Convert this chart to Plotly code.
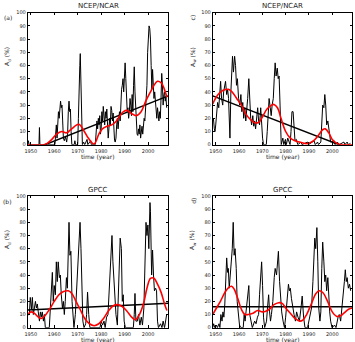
import plotly.graph_objects as go

W, H = 355, 342
X_RANGE = [1948.7, 2008.6]
Y_RANGE = [0, 100]
x_ticks = [1950, 1960, 1970, 1980, 1990, 2000]
y_ticks = list(range(0, 101, 10))

titles = ["NCEP/NCAR", "NCEP/NCAR", "GPCC", "GPCC"]
panel_labels = ["(a)", "c)", "(b)", "d)"]
y_labels = ["A<sub>d</sub> (%)", "A<sub>w</sub> (%)", "A<sub>d</sub> (%)", "A<sub>w</sub> (%)"]
x_label = "time (year)"

# ---- panel (a): NCEP/NCAR, dry ----
a_black = [(1948.7,0),(1949.0,3),(1949.3,0),(1953.5,0),(1953.7,13),(1953.9,0),(1957.0,0),(1957.3,1),(1957.6,0),
 (1960.3,0),(1960.6,8),(1960.9,15),(1961.2,5),(1961.5,18),(1961.8,25),(1962.1,20),(1962.4,27),(1962.7,33),(1963.0,28),
 (1963.3,30),(1963.6,18),(1963.9,5),(1964.3,3),(1964.8,6),(1965.3,2),(1965.7,8),(1966.0,25),(1966.3,33),(1966.6,25),
 (1966.9,27),(1967.2,10),(1967.5,0),(1968.5,0),(1968.8,3),(1969.1,0),(1970.0,0),(1970.3,20),(1970.6,55),(1970.9,60),
 (1971.1,69),(1971.4,50),(1971.7,20),(1972.0,0),(1972.5,2),(1973.0,0),(1974.0,4),(1974.3,0),(1975.5,3),(1975.8,0),
 (1977.5,0),(1977.8,8),(1978.2,18),(1978.5,12),(1978.8,20),(1979.1,15),(1979.4,22),(1979.7,8),(1980.0,12),(1980.3,25),
 (1980.6,18),(1980.9,29),(1981.2,22),(1981.5,15),(1981.8,25),(1982.1,20),(1982.4,27),(1982.7,10),(1983.0,5),(1983.3,12),
 (1983.6,20),(1983.9,15),(1984.2,29),(1984.5,26),(1984.8,18),(1985.1,24),(1985.4,10),(1985.7,3),(1986.0,2),(1986.3,5),
 (1986.6,15),(1986.9,20),(1987.2,12),(1987.5,22),(1987.8,25),(1988.1,18),(1988.4,35),(1988.7,42),(1989.0,45),(1989.3,50),
 (1989.6,40),(1989.9,55),(1990.2,62),(1990.5,50),(1990.8,30),(1991.1,25),(1991.4,28),(1991.7,20),(1992.0,25),(1992.3,35),
 (1992.6,30),(1992.9,22),(1993.2,38),(1993.5,25),(1993.8,45),(1994.1,59),(1994.4,40),(1994.7,28),(1995.0,20),(1995.3,8),
 (1995.6,7),(1995.9,12),(1996.2,8),(1996.5,15),(1996.8,5),(1997.1,10),(1997.4,14),(1997.7,8),(1998.0,15),(1998.3,20),
 (1998.6,18),(1998.9,28),(1999.2,32),(1999.5,45),(1999.8,70),(2000.1,85),(2000.4,90),(2000.7,88),(2001.0,80),(2001.3,60),
 (2001.6,42),(2001.9,57),(2002.2,45),(2002.5,35),(2002.8,40),(2003.1,30),(2003.4,25),(2003.7,20),(2004.0,28),(2004.3,22),
 (2004.6,18),(2004.9,25),(2005.2,20),(2005.5,35),(2005.8,54),(2006.1,45),(2006.4,30),(2006.7,38),(2007.0,40),(2007.3,33),
 (2007.6,36),(2007.9,28)]
a_red = [(1948.7,0),(1955.5,0),(1957,1),(1959,4),(1961,8),(1963.2,10),(1965.3,9),(1967.4,12),(1970.5,15.5),(1972.5,11),
 (1974.5,5),(1977,0.5),(1979,8),(1980.5,12),(1982.5,14),(1984.5,15),(1986.5,18),(1988,22),(1989.5,25),(1991,26),
 (1993,23.5),(1995,22),(1997,25),(1999,33),(2001,40),(2002.5,45),(2004,48),(2005.5,47),(2006.5,44),(2008,36)]
a_trend = [(1948.7,-5.2),(2008.6,37)]

# ---- panel (c): NCEP/NCAR, wet ----
c_black = [(1948.7,18),(1949.0,20),(1949.4,12),(1949.7,10),(1950.0,15),(1950.4,28),(1950.8,32),(1951.3,28),(1951.7,42),
 (1952.1,48),(1952.5,35),(1953.0,30),(1953.4,40),(1953.8,45),(1954.2,48),(1954.7,38),(1955.1,42),(1955.5,35),(1955.8,20),
 (1956.1,5),(1956.5,40),(1956.8,60),(1957.2,67),(1957.6,55),(1958.1,67),(1958.5,60),(1958.9,45),(1959.3,50),(1959.8,35),
 (1960.3,30),(1960.8,38),(1961.2,25),(1961.6,32),(1962.0,20),(1962.5,28),(1962.9,18),(1963.3,25),(1963.7,35),(1964.2,50),
 (1964.6,30),(1965.0,20),(1965.4,15),(1965.9,22),(1966.3,14),(1966.7,18),(1967.1,12),(1967.6,22),(1968.0,28),(1968.4,18),
 (1968.8,15),(1969.3,28),(1969.7,12),(1970.1,5),(1970.5,0),(1971.7,0),(1972.1,10),(1972.5,25),(1972.9,35),(1973.4,28),
 (1973.8,22),(1974.2,30),(1974.7,35),(1975.1,50),(1975.5,62),(1975.9,52),(1976.4,58),(1976.8,50),(1977.2,52),(1977.6,30),
 (1978.1,0),(1978.8,5),(1979.2,0),(1979.9,4),(1980.3,0),(1980.9,5),(1981.3,2),(1981.9,0),(1982.3,10),(1982.7,25),
 (1983.2,25),(1983.6,10),(1984.0,3),(1984.6,4),(1985.2,0),(1986.6,2),(1987.0,0),(1989.4,2),(1989.8,0),(1992.2,3),
 (1992.7,0),(1993.7,2),(1994.1,0),(1995.1,2),(1995.5,25),(1995.9,30),(1996.4,28),(1996.8,38),(1997.2,30),(1997.6,15),
 (1998.1,18),(1998.5,12),(1998.9,5),(1999.3,2),(2000.8,3),(2001.2,0),(2002.2,2),(2002.9,0),(2005.0,2),(2005.4,0),
 (2006.4,2),(2006.9,0),(2007.8,1)]
c_red = [(1948.7,31),(1951,38),(1953,41),(1955.4,42),(1957,40),(1959,35),(1961,30),(1963,23),(1965,19),(1967,16.5),
 (1968.5,17),(1970,21),(1972,27),(1974,30),(1975,30.5),(1976.5,28),(1978,20),(1980,10),(1982,5),(1984,3),(1986,2),
 (1988,1),(1990,1),(1992,3),(1994,7),(1996,11.5),(1997,12),(1998.5,9),(2000,4),(2002,1),(2004,0),(2008.6,0)]
c_trend = [(1948.7,37),(2008.6,-3.9)]

# ---- panel (b): GPCC, dry ----
b_black = [(1949.4,10),(1949.8,23),(1950.3,14),(1950.7,23),(1951.1,10),(1951.5,15),(1952.0,20),(1952.4,15),(1952.8,18),
 (1953.2,12),(1953.7,5),(1954.1,12),(1954.5,8),(1954.9,12),(1955.4,5),(1955.8,10),(1956.2,0),(1957.9,0),(1958.3,15),
 (1958.9,35),(1959.2,42),(1959.6,20),(1960.0,32),(1960.5,25),(1960.9,50),(1961.3,35),(1961.7,50),(1962.2,38),(1962.6,40),
 (1963.0,25),(1963.5,15),(1963.9,20),(1964.3,10),(1964.7,20),(1965.2,38),(1965.6,30),(1966.0,55),(1966.3,80),(1966.7,55),
 (1967.1,58),(1967.6,20),(1968.0,5),(1968.4,0),(1969.0,10),(1969.6,30),(1970.1,55),(1970.7,75),(1971.0,80),(1971.4,60),
 (1971.8,20),(1972.2,5),(1972.7,0),(1973.4,3),(1973.8,10),(1974.2,27),(1974.7,10),(1975.2,0),(1979.5,0),(1980.0,5),
 (1980.6,2),(1981.2,5),(1981.7,0),(1982.3,8),(1982.9,10),(1983.5,30),(1984.0,55),(1984.6,70),(1985.0,50),(1985.4,35),
 (1985.9,25),(1986.3,10),(1986.9,2),(1987.3,20),(1987.7,45),(1988.1,68),(1988.6,60),(1989.0,20),(1989.4,25),(1989.8,5),
 (1990.3,0),(1993.7,0),(1994.1,10),(1994.4,26),(1994.8,5),(1995.4,5),(1995.9,10),(1996.5,2),(1997.1,8),(1997.6,2),
 (1998.2,15),(1998.6,45),(1999.1,80),(1999.5,70),(1999.9,78),(2000.3,60),(2000.8,95),(2001.0,88),(2001.5,40),(2001.9,59),
 (2002.3,40),(2002.7,28),(2003.2,30),(2003.6,28),(2004.0,5),(2004.4,0),(2005.3,3),(2005.9,0),(2006.4,5),(2007.0,0),
 (2007.9,10)]
b_red = [(1948.7,9.5),(1950,12),(1951.5,11),(1953,8.5),(1954.5,7),(1956,9),(1958,14),(1960,20),(1962,25),(1964,27.5),
 (1966,28),(1967.5,26),(1969,21),(1971,14),(1973,7),(1975,3),(1977,1.5),(1979,3),(1981,7),(1983,12.5),(1985,16.5),
 (1987,17.5),(1989,16),(1991,12.5),(1993,8),(1994.5,6),(1996,9),(1998,18),(1999.5,30),(2001,37.5),(2002.5,37.5),
 (2004,33),(2005.5,27),(2007,18),(2008,13)]
b_trend = [(1948.7,13.5),(2008.6,18.5)]

# ---- panel (d): GPCC, wet ----
d_black = [(1948.7,0),(1949.1,3),(1949.6,0),(1950.3,2),(1950.7,0),(1951.4,3),(1951.8,0),(1952.2,10),(1952.7,5),(1953.1,12),
 (1953.5,8),(1953.9,18),(1954.4,40),(1954.7,53),(1955.1,42),(1955.4,45),(1955.8,30),(1956.2,40),(1956.6,48),(1957.1,60),
 (1957.5,80),(1957.9,55),(1958.3,60),(1958.8,45),(1959.2,20),(1959.6,10),(1960.2,2),(1960.8,0),(1961.8,0),(1962.2,10),
 (1962.6,5),(1963.0,12),(1963.6,20),(1964.2,32),(1964.6,10),(1965.2,5),(1965.7,0),(1966.7,5),(1967.3,3),(1967.9,8),
 (1968.4,10),(1968.8,25),(1969.3,38),(1969.7,50),(1970.1,32),(1970.5,8),(1971.0,0),(1971.8,5),(1972.2,15),(1972.7,25),
 (1973.1,12),(1973.5,5),(1973.9,10),(1974.5,20),(1975.1,38),(1975.5,45),(1976.1,40),(1976.5,50),(1976.9,58),(1977.4,35),
 (1977.8,20),(1978.3,12),(1978.9,5),(1979.5,0),(1980.0,8),(1980.6,20),(1981.2,33),(1981.6,28),(1982.0,30),(1982.5,22),
 (1983.0,15),(1983.6,10),(1984.2,5),(1984.7,12),(1985.3,8),(1985.9,5),(1986.6,15),(1987.1,24),(1987.7,8),(1988.3,0),
 (1989.4,0),(1990.0,5),(1990.5,10),(1991.1,15),(1991.7,35),(1992.1,50),(1992.5,68),(1992.9,60),(1993.4,76),(1993.8,50),
 (1994.2,15),(1994.7,5),(1995.1,12),(1995.5,45),(1995.9,65),(1996.4,50),(1996.8,35),(1997.2,40),(1997.6,28),(1998.1,38),
 (1998.5,20),(1998.9,12),(1999.3,5),(1999.9,0),(2001.0,2),(2001.6,0),(2002.5,8),(2003.0,10),(2003.6,5),(2004.2,15),
 (2004.7,25),(2005.2,35),(2005.6,44),(2006.0,35),(2006.4,38),(2006.9,30),(2007.4,33),(2007.9,28)]
d_red = [(1948.7,10),(1950,14),(1952,20),(1954,27),(1955.5,30.5),(1956.8,31.5),(1958,29),(1959.5,22),(1961,14),(1962.5,10),
 (1964,10),(1966,11),(1968,13),(1970,12),(1971.5,12.5),(1973,14),(1975,17.5),(1977,19),(1978.5,18.5),(1980,15),(1982,11),
 (1984,7),(1986,5),(1987.5,6),(1989,10),(1991,18),(1993,26),(1994.5,28),(1996,26.5),(1998,20),(2000,12),(2002,8.5),
 (2003.5,9),(2005,11),(2007,14),(2008.6,15)]
d_trend = [(1948.7,16),(2008.6,16)]

panels = [(a_black, a_red, a_trend), (c_black, c_red, c_trend), (b_black, b_red, b_trend), (d_black, d_red, d_trend)]

# pixel boxes of the four plot areas: (left, right, top, bottom)
boxes = [(27.7, 168.3, 12.7, 144.7), (212.7, 352.3, 12.7, 144.7),
         (27.7, 168.3, 196.0, 327.7), (212.7, 352.3, 196.0, 327.7)]

FONT = "DejaVu Sans"
TXT = "#222222"
fig = go.Figure()
annotations = []
for i, ((blk, red, trend), (l, r, t, b)) in enumerate(zip(panels, boxes)):
    n = "" if i == 0 else str(i + 1)
    xa, ya = "x" + n, "y" + n
    def unzip(p):
        return [q[0] for q in p], [q[1] for q in p]
    bx, by = unzip(blk)
    rx, ry = unzip(red)
    tx, ty = unzip(trend)
    fig.add_trace(go.Scatter(x=bx, y=by, mode="lines", line=dict(color="black", width=1),
                             xaxis=xa, yaxis=ya, showlegend=False, hoverinfo="skip"))
    fig.add_trace(go.Scatter(x=tx, y=ty, mode="lines", line=dict(color="black", width=1.5),
                             xaxis=xa, yaxis=ya, showlegend=False, hoverinfo="skip"))
    fig.add_trace(go.Scatter(x=rx, y=ry, mode="lines", line=dict(color="#ff0000", width=1.6, shape="spline", smoothing=1.0),
                             xaxis=xa, yaxis=ya, showlegend=False, hoverinfo="skip"))
    axcommon = dict(showgrid=False, zeroline=False, showline=True, linecolor="black", linewidth=0.8,
                    mirror="ticks", ticks="inside", ticklen=2.5, tickwidth=0.6, tickcolor="black",
                    tickfont=dict(family=FONT, size=5, color=TXT), automargin=False, fixedrange=True)
    fig.layout["xaxis" + n] = dict(domain=[l / W, r / W], range=X_RANGE, tickvals=x_ticks,
                                   anchor=ya, ticklabelstandoff=1, **axcommon)
    fig.layout["yaxis" + n] = dict(domain=[1 - b / H, 1 - t / H], range=Y_RANGE, tickvals=y_ticks,
                                   anchor=xa, **axcommon)
    cx = (l + r) / 2
    annotations.append(dict(text=titles[i], x=cx / W, y=1 - (t - 6.5) / H, xref="paper", yref="paper",
                            showarrow=False, font=dict(family=FONT, size=7, color=TXT),
                            xanchor="center", yanchor="middle"))
    annotations.append(dict(text=x_label, x=cx / W, y=1 - (b + 12.5) / H, xref="paper", yref="paper",
                            showarrow=False, font=dict(family=FONT, size=6, color=TXT),
                            xanchor="center", yanchor="middle"))
    annotations.append(dict(text=y_labels[i], x=(l - 20.5) / W, y=1 - ((t + b) / 2 - 22) / H, xref="paper", yref="paper",
                            showarrow=False, textangle=-90, font=dict(family=FONT, size=6, color=TXT),
                            xanchor="center", yanchor="middle"))
    rot = 0 if panel_labels[i].startswith("(") else -90
    annotations.append(dict(text=panel_labels[i], x=(l - 20) / W, y=1 - (t + 5) / H, xref="paper", yref="paper",
                            showarrow=False, textangle=rot, font=dict(family=FONT, size=6, color=TXT),
                            xanchor="center", yanchor="middle"))

fig.update_layout(width=W, height=H, margin=dict(l=0, r=0, t=0, b=0),
                  paper_bgcolor="white", plot_bgcolor="white", annotations=annotations)
fig.write_html("out.html", config={"displayModeBar": False})
